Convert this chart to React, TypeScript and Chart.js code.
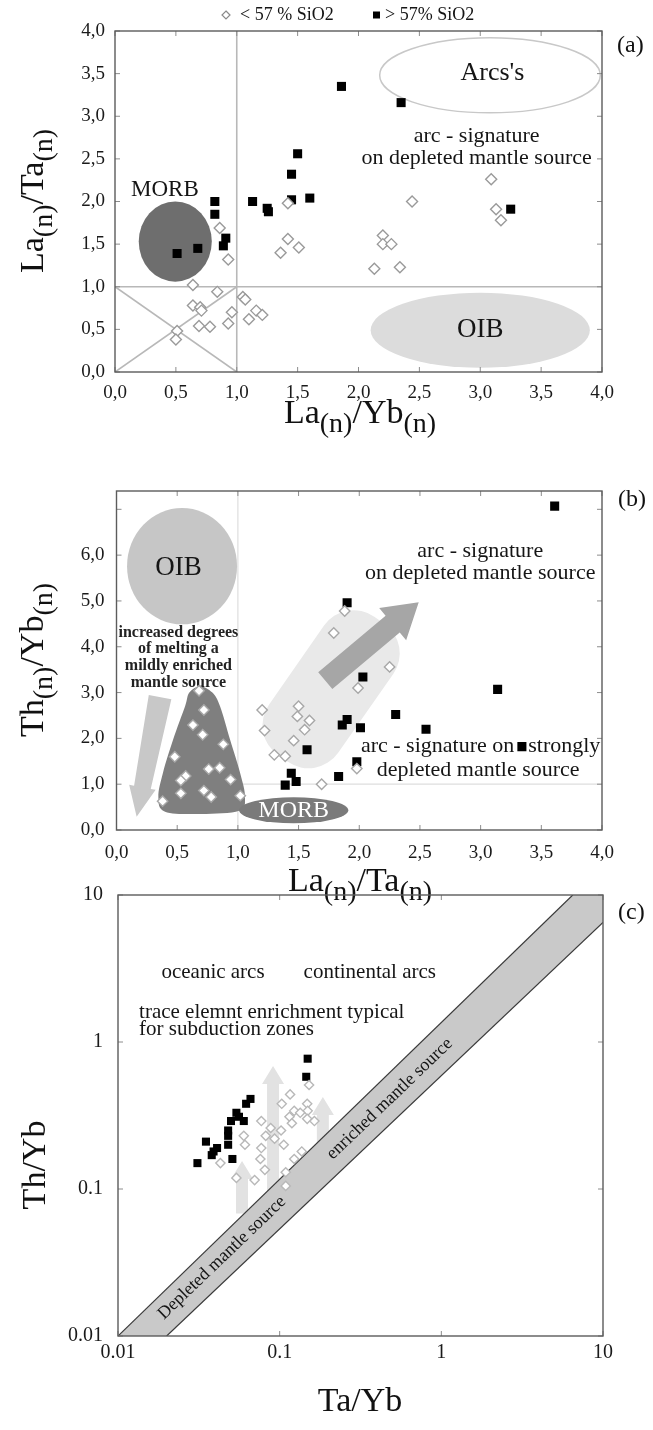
import React, { useEffect, useRef } from 'react';
import { Chart, registerables } from 'chart.js';

Chart.register(...registerables);

type Pt = [number, number];
const SERIF = '"Liberation Serif", "Times New Roman", serif';
const PAGE_W = 653;
const PAGE_H = 1430;

const LEGEND_LOW = '< 57 % SiO2';
const LEGEND_HIGH = '> 57% SiO2';

// ---------- Panel (a): La(n)/Yb(n) vs La(n)/Ta(n) ----------
const A_LOW: Pt[] = [
  [0.86, 1.69], [0.93, 1.32], [1.42, 1.98], [1.42, 1.56], [1.36, 1.40], [1.51, 1.46],
  [0.64, 1.02], [0.84, 0.94], [0.64, 0.78], [0.70, 0.76], [0.71, 0.72], [1.05, 0.88],
  [1.07, 0.85], [0.96, 0.70], [1.16, 0.72], [1.21, 0.67], [1.10, 0.62], [0.93, 0.57],
  [0.69, 0.54], [0.78, 0.53], [0.51, 0.48], [0.50, 0.38], [3.09, 2.26], [2.44, 2.00],
  [3.13, 1.91], [3.17, 1.78], [2.20, 1.60], [2.20, 1.50], [2.27, 1.50], [2.13, 1.21],
  [2.34, 1.23],
];
const A_HIGH: Pt[] = [
  [1.86, 3.35], [2.35, 3.16], [1.50, 2.56], [1.45, 2.32], [1.60, 2.04], [1.45, 2.02],
  [1.13, 2.00], [1.25, 1.92], [1.26, 1.88], [0.82, 2.00], [0.82, 1.85], [0.91, 1.57],
  [0.89, 1.48], [0.68, 1.45], [0.51, 1.39], [3.25, 1.91],
];
const A_TICKS = [0, 0.5, 1, 1.5, 2, 2.5, 3, 3.5, 4];
const A_GUIDES: [number, number, number, number][] = [[1, 0, 1, 4], [0, 1, 4, 1], [0, 0, 1, 1], [0, 1, 1, 0]];
const A_MORB = [0.495, 1.53, 0.30, 0.47];
const A_ARCS = [3.08, 3.48, 0.906, 0.44];
const A_OIB = [3.0, 0.49, 0.90, 0.44];

// ---------- Panel (b): La(n)/Ta(n) vs Th(n)/Yb(n) ----------
const B_LOW: Pt[] = [
  [0.68, 3.04], [0.72, 2.62], [0.63, 2.29], [0.71, 2.08], [0.88, 1.87], [0.48, 1.60],
  [0.76, 1.33], [0.85, 1.36], [0.57, 1.18], [0.53, 1.08], [0.94, 1.10], [0.72, 0.86],
  [0.53, 0.80], [0.78, 0.72], [1.02, 0.75], [0.38, 0.63], [1.20, 2.62], [1.50, 2.70],
  [1.49, 2.48], [1.59, 2.39], [1.22, 2.17], [1.55, 2.19], [1.46, 1.95], [1.30, 1.64],
  [1.39, 1.61], [1.69, 1.00], [1.99, 3.10], [1.98, 1.34], [1.88, 4.78], [1.79, 4.30],
  [2.25, 3.56],
];
const B_HIGH: Pt[] = [
  [3.61, 7.07], [1.90, 4.96], [2.03, 3.34], [3.14, 3.07], [2.30, 2.52], [1.90, 2.41],
  [1.86, 2.29], [2.01, 2.23], [2.55, 2.20], [3.34, 1.82], [1.57, 1.75], [1.98, 1.49],
  [1.44, 1.24], [1.83, 1.17], [1.48, 1.06], [1.39, 0.98],
];
const B_TICKS_X = [0, 0.5, 1, 1.5, 2, 2.5, 3, 3.5, 4];
const B_TICKS_Y = [0, 1, 2, 3, 4, 5, 6, 7];
const B_LAST_LABEL = 6;
const B_GUIDES: [number, number, number, number][] = [[1, 0, 1, 7.4], [1, 1, 4, 1]];
const B_OIB = [0.54, 5.76, 0.453, 1.27];
const B_MORB = [1.46, 0.43, 0.45, 0.285];
const B_ARC_FIELD: Pt[] = [[2.45, 4.05], [1.88, 5.11], [1.087, 2.09], [1.655, 1.04]];
const B_MELT_FIELD: Pt[] = [
  [0.689, 3.14], [0.79, 3.00], [0.853, 2.70], [0.936, 1.97], [1.018, 1.25], [1.059, 0.72],
  [1.01, 0.42], [0.70, 0.35], [0.40, 0.40], [0.345, 0.72], [0.383, 1.25], [0.466, 1.97],
  [0.565, 2.70], [0.60, 3.00],
];
const B_ARROW_DOWN: Pt[] = [[0.359, 2.90], [0.166, 0.29]];
const B_ARROW_UP: Pt[] = [[1.72, 3.26], [2.49, 4.97]];
const B_MELT_TEXT = ['increased degrees', 'of melting a', 'mildly enriched', 'mantle source'];

// ---------- Panel (c): Ta/Yb vs Th/Yb (log-log) ----------
const C_LOW: Pt[] = [
  [0.152, 0.51], [0.116, 0.44], [0.103, 0.38], [0.123, 0.34], [0.148, 0.38], [0.149, 0.34],
  [0.134, 0.33], [0.115, 0.31], [0.164, 0.29], [0.148, 0.30], [0.077, 0.29], [0.088, 0.26],
  [0.102, 0.25], [0.119, 0.28], [0.082, 0.23], [0.093, 0.22], [0.060, 0.23], [0.061, 0.20],
  [0.106, 0.20], [0.077, 0.19], [0.137, 0.18], [0.123, 0.16], [0.076, 0.16], [0.043, 0.15],
  [0.081, 0.135], [0.109, 0.13], [0.054, 0.119], [0.070, 0.115], [0.109, 0.105],
];
const C_HIGH: Pt[] = [
  [0.149, 0.77], [0.146, 0.58], [0.066, 0.41], [0.062, 0.38], [0.054, 0.33], [0.056, 0.31],
  [0.050, 0.29], [0.060, 0.29], [0.048, 0.25], [0.048, 0.23], [0.035, 0.21], [0.048, 0.20],
  [0.041, 0.19], [0.039, 0.18], [0.038, 0.17], [0.051, 0.16], [0.031, 0.15],
];
const LOG_TICKS = [0.01, 0.1, 1, 10];
const LOG_LABELS = ['0.01', '0.1', '1', '10'];
const C_BAND: Pt[] = [[0.01, 0.01], [6.5, 10], [10, 10], [10, 6.5], [0.02, 0.01]];
const C_EDGES: [Pt, Pt][] = [[[0.01, 0.01], [6.5, 10]], [[0.02, 0.01], [10, 6.5]]];
const C_ARROWS: [number, number, number][] = [[0.0585, 0.068, 0.155], [0.091, 0.0855, 0.687], [0.185, 0.148, 0.423]];

// ---------- drawing helpers ----------
type Ctx = CanvasRenderingContext2D;
type Conv = (v: number) => number;

function setFont(ctx: Ctx, size: number, weight = 'normal') {
  ctx.font = `${weight} ${size}px ${SERIF}`;
}
function label(ctx: Ctx, s: string, x: number, y: number, size: number, color = '#151515', align: CanvasTextAlign = 'center', weight = 'normal') {
  setFont(ctx, size, weight);
  ctx.fillStyle = color;
  ctx.textAlign = align;
  ctx.textBaseline = 'middle';
  ctx.fillText(s, x, y);
}
function rotLabel(ctx: Ctx, s: string, x: number, y: number, ang: number, size: number) {
  ctx.save();
  ctx.translate(x, y);
  ctx.rotate(ang);
  label(ctx, s, 0, 0, size);
  ctx.restore();
}
function ellipse(ctx: Ctx, X: Conv, Y: Conv, e: number[], fill: string | null, stroke: string | null) {
  const [cx, cy, rx, ry] = e;
  const px = X(cx), py = Y(cy);
  const prx = Math.abs(X(cx + rx) - px), pry = Math.abs(Y(cy + ry) - py);
  ctx.beginPath();
  ctx.ellipse(px, py, prx, pry, 0, 0, Math.PI * 2);
  if (fill) { ctx.fillStyle = fill; ctx.fill(); }
  if (stroke) { ctx.strokeStyle = stroke; ctx.lineWidth = 1.5; ctx.stroke(); }
}
function arrow(ctx: Ctx, x0: number, y0: number, x1: number, y1: number, sw0: number, sw1: number, hw: number, hl: number, color: string) {
  const len = Math.hypot(x1 - x0, y1 - y0);
  const dx = (x1 - x0) / len, dy = (y1 - y0) / len;
  const nx = -dy, ny = dx;
  const bx = x1 - dx * hl, by = y1 - dy * hl;
  ctx.beginPath();
  ctx.moveTo(x0 + nx * sw0 / 2, y0 + ny * sw0 / 2);
  ctx.lineTo(bx + nx * sw1 / 2, by + ny * sw1 / 2);
  ctx.lineTo(bx + nx * hw / 2, by + ny * hw / 2);
  ctx.lineTo(x1, y1);
  ctx.lineTo(bx - nx * hw / 2, by - ny * hw / 2);
  ctx.lineTo(bx - nx * sw1 / 2, by - ny * sw1 / 2);
  ctx.lineTo(x0 - nx * sw0 / 2, y0 - ny * sw0 / 2);
  ctx.closePath();
  ctx.fillStyle = color;
  ctx.fill();
}
function roundedPoly(ctx: Ctx, pts: number[][], r: number) {
  const n = pts.length;
  ctx.beginPath();
  ctx.moveTo((pts[n - 1][0] + pts[0][0]) / 2, (pts[n - 1][1] + pts[0][1]) / 2);
  for (let i = 0; i < n; i++) {
    const p = pts[i], q = pts[(i + 1) % n];
    ctx.arcTo(p[0], p[1], q[0], q[1], r);
  }
  ctx.closePath();
}
function smoothClosed(ctx: Ctx, pts: number[][]) {
  const n = pts.length;
  ctx.beginPath();
  ctx.moveTo(pts[0][0], pts[0][1]);
  for (let i = 0; i < n; i++) {
    const p0 = pts[(i - 1 + n) % n], p1 = pts[i], p2 = pts[(i + 1) % n], p3 = pts[(i + 2) % n];
    ctx.bezierCurveTo(
      p1[0] + (p2[0] - p0[0]) / 6, p1[1] + (p2[1] - p0[1]) / 6,
      p2[0] - (p3[0] - p1[0]) / 6, p2[1] - (p3[1] - p1[1]) / 6,
      p2[0], p2[1]);
  }
  ctx.closePath();
}
function line(ctx: Ctx, x0: number, y0: number, x1: number, y1: number) {
  ctx.beginPath();
  ctx.moveTo(x0, y0);
  ctx.lineTo(x1, y1);
  ctx.stroke();
}

// ---------- panel-specific underlays ----------
function drawA(ctx: Ctx, X: Conv, Y: Conv) {
  ctx.strokeStyle = '#b8b8b8';
  ctx.lineWidth = 1.6;
  for (const [x0, y0, x1, y1] of A_GUIDES) line(ctx, X(x0), Y(y0), X(x1), Y(y1));
  ellipse(ctx, X, Y, A_OIB, '#dcdcdc', null);
  ellipse(ctx, X, Y, A_ARCS, null, '#c8c8c8');
  ellipse(ctx, X, Y, A_MORB, '#6e6e6e', null);
  label(ctx, 'MORB', X(0.41), Y(2.13), 23);
  label(ctx, "Arcs's", X(3.10), Y(3.51), 26);
  label(ctx, 'arc - signature', X(2.97), Y(2.77), 22);
  label(ctx, 'on depleted mantle source', X(2.97), Y(2.51), 22);
  label(ctx, 'OIB', X(3.0), Y(0.49), 27);
}

function drawB(ctx: Ctx, X: Conv, Y: Conv) {
  ctx.strokeStyle = '#dedede';
  ctx.lineWidth = 1.2;
  for (const [x0, y0, x1, y1] of B_GUIDES) line(ctx, X(x0), Y(y0), X(x1), Y(y1));
  roundedPoly(ctx, B_ARC_FIELD.map(([x, y]) => [X(x), Y(y)]), 36);
  ctx.fillStyle = '#e9e9e9';
  ctx.fill();
  ellipse(ctx, X, Y, B_OIB, '#c6c6c6', null);
  smoothClosed(ctx, B_MELT_FIELD.map(([x, y]) => [X(x), Y(y)]));
  ctx.fillStyle = '#7f7f7f';
  ctx.fill();
  const [d0, d1] = B_ARROW_DOWN;
  arrow(ctx, X(d0[0]), Y(d0[1]), X(d1[0]), Y(d1[1]), 23, 17, 27, 30, '#c8c8c8');
  const [u0, u1] = B_ARROW_UP;
  arrow(ctx, X(u0[0]), Y(u0[1]), X(u1[0]), Y(u1[1]), 22, 22, 42, 34, '#a6a6a6');
  ellipse(ctx, X, Y, B_MORB, '#7a7a7a', null);
  label(ctx, 'MORB', X(1.46), Y(0.43), 24, '#ffffff');
  label(ctx, 'OIB', X(0.51), Y(5.73), 27);
  B_MELT_TEXT.forEach((s, i) => label(ctx, s, X(0.51), Y(4.31) + i * 16.8, 16, '#222', 'center', 'bold'));
  label(ctx, 'arc - signature', X(2.997), Y(6.09), 22);
  label(ctx, 'on depleted mantle source', X(2.997), Y(5.61), 22);
  label(ctx, 'arc - signature on', X(3.277), Y(1.82), 22, '#151515', 'right');
  label(ctx, 'strongly', X(3.392), Y(1.82), 22, '#151515', 'left');
  label(ctx, 'depleted mantle source', X(2.98), Y(1.31), 22);
}

function drawC(ctx: Ctx, X: Conv, Y: Conv) {
  for (const [x, y0, y1] of C_ARROWS) arrow(ctx, X(x), Y(y0), X(x), Y(y1), 12, 12, 22, 18, '#e2e2e2');
  ctx.beginPath();
  C_BAND.forEach(([x, y], i) => (i ? ctx.lineTo(X(x), Y(y)) : ctx.moveTo(X(x), Y(y))));
  ctx.closePath();
  ctx.fillStyle = '#c9c9c9';
  ctx.fill();
  ctx.strokeStyle = '#3a3a3a';
  ctx.lineWidth = 1.2;
  for (const [p, q] of C_EDGES) line(ctx, X(p[0]), Y(p[1]), X(q[0]), Y(q[1]));
  const angs = C_EDGES.map(([p, q]) => Math.atan2(Y(q[1]) - Y(p[1]), X(q[0]) - X(p[0])));
  const ang = (angs[0] + angs[1]) / 2;
  rotLabel(ctx, 'Depleted mantle source', X(0.044), Y(0.034), ang, 18);
  rotLabel(ctx, 'enriched mantle source', X(0.48), Y(0.41), ang, 18);
  label(ctx, 'oceanic arcs', X(0.0387), Y(2.99), 21);
  label(ctx, 'continental arcs', X(0.361), Y(2.99), 21);
  label(ctx, 'trace elemnt enrichment typical', X(0.0135), Y(1.6), 21, '#151515', 'left');
  label(ctx, 'for subduction zones', X(0.0135), Y(1.21), 21, '#151515', 'left');
}

// ---------- titles ----------
type Part = [string, boolean];
interface Title { parts: Part[]; x: number; y: number; rot: boolean }

function drawTitle(ctx: Ctx, t: Title) {
  const big = 34, small = 28, drop = 9;
  ctx.save();
  ctx.translate(t.x, t.y);
  if (t.rot) ctx.rotate(-Math.PI / 2);
  let w = 0;
  for (const [s, sub] of t.parts) { setFont(ctx, sub ? small : big); w += ctx.measureText(s).width; }
  let x = -w / 2;
  ctx.fillStyle = '#111';
  ctx.textAlign = 'left';
  ctx.textBaseline = 'alphabetic';
  for (const [s, sub] of t.parts) {
    setFont(ctx, sub ? small : big);
    ctx.fillText(s, x, sub ? 11 + drop : 11);
    x += ctx.measureText(s).width;
  }
  ctx.restore();
}

interface Spec {
  key: string;
  L: number; R: number; T: number; B: number;
  log: boolean;
  xMin: number; xMax: number; yMin: number; yMax: number;
  xTicks: number[]; yTicks: number[];
  xFmt: (v: number, i: number) => string; yFmt: (v: number, i: number) => string;
  xPad: number; yPad: number; tickSize: number;
  low: Pt[]; high: Pt[]; lowR: number; highR: number; lowColor: string;
  under: (ctx: Ctx, X: Conv, Y: Conv) => void;
  titles: Title[]; letter: string; letterX: number; letterY: number;
  legend?: boolean;
}

const comma = (v: number) => v.toFixed(1).replace('.', ',');

const SPECS: Spec[] = [
  {
    key: 'a', L: 115, R: 602, T: 31, B: 372, log: false,
    xMin: 0, xMax: 4, yMin: 0, yMax: 4, xTicks: A_TICKS, yTicks: A_TICKS,
    xFmt: comma, yFmt: comma, xPad: 10, yPad: 10, tickSize: 19,
    low: A_LOW, high: A_HIGH, lowR: 5.5, highR: 6.4, lowColor: '#9a9a9a',
    under: drawA,
    titles: [
      { parts: [['La', false], ['(n)', true], ['/Ta', false], ['(n)', true]], x: 32, y: 201, rot: true },
      { parts: [['La', false], ['(n)', true], ['/Yb', false], ['(n)', true]], x: 360, y: 412, rot: false },
    ],
    letter: '(a)', letterX: 617, letterY: 46, legend: true,
  },
  {
    key: 'b', L: 116.5, R: 602, T: 491, B: 830, log: false,
    xMin: 0, xMax: 4, yMin: 0, yMax: 7.4, xTicks: B_TICKS_X, yTicks: B_TICKS_Y,
    xFmt: comma, yFmt: (v: number) => (v <= B_LAST_LABEL ? comma(v) : ''), xPad: 12, yPad: 12, tickSize: 19,
    low: B_LOW, high: B_HIGH, lowR: 5.2, highR: 6.4, lowColor: '#a8a8a8',
    under: drawB,
    titles: [
      { parts: [['Th', false], ['(n)', true], ['/Yb', false], ['(n)', true]], x: 32, y: 660, rot: true },
      { parts: [['La', false], ['(n)', true], ['/Ta', false], ['(n)', true]], x: 360, y: 880, rot: false },
    ],
    letter: '(b)', letterX: 618, letterY: 500,
  },
  {
    key: 'c', L: 118, R: 603, T: 895, B: 1336, log: true,
    xMin: 0.01, xMax: 10, yMin: 0.01, yMax: 10, xTicks: LOG_TICKS, yTicks: LOG_TICKS,
    xFmt: (_v: number, i: number) => LOG_LABELS[i], yFmt: (_v: number, i: number) => LOG_LABELS[i],
    xPad: 5, yPad: 15, tickSize: 20,
    low: C_LOW, high: C_HIGH, lowR: 4.6, highR: 5.7, lowColor: '#b8b8b8',
    under: drawC,
    titles: [
      { parts: [['Th/Yb', false]], x: 34, y: 1165, rot: true },
      { parts: [['Ta/Yb', false]], x: 360, y: 1400, rot: false },
    ],
    letter: '(c)', letterX: 618, letterY: 913,
  },
];

function buildConfig(s: Spec): any {
  const deco = {
    id: 'deco-' + s.key,
    beforeDatasetsDraw(chart: any) {
      const ctx: Ctx = chart.ctx;
      const a = chart.chartArea;
      const X = (v: number) => chart.scales.x.getPixelForValue(v);
      const Y = (v: number) => chart.scales.y.getPixelForValue(v);
      ctx.save();
      ctx.beginPath();
      ctx.rect(a.left, a.top, a.right - a.left, a.bottom - a.top);
      ctx.clip();
      s.under(ctx, X, Y);
      ctx.restore();
    },
    afterDraw(chart: any) {
      const ctx: Ctx = chart.ctx;
      const a = chart.chartArea;
      const X = (v: number) => chart.scales.x.getPixelForValue(v);
      const Y = (v: number) => chart.scales.y.getPixelForValue(v);
      ctx.save();
      ctx.strokeStyle = '#8c8c8c';
      ctx.lineWidth = 1;
      for (const v of s.xTicks) {
        const px = X(v);
        line(ctx, px, a.top, px, a.top + 5);
        line(ctx, px, a.bottom, px, a.bottom - 5);
      }
      for (const v of s.yTicks) {
        const py = Y(v);
        line(ctx, a.left, py, a.left + 5, py);
        line(ctx, a.right, py, a.right - 5, py);
      }
      ctx.strokeStyle = '#5c5c5c';
      ctx.lineWidth = 1.4;
      ctx.strokeRect(a.left, a.top, a.right - a.left, a.bottom - a.top);
      for (const t of s.titles) drawTitle(ctx, t);
      label(ctx, s.letter, s.letterX, s.letterY, 24, '#111', 'left');
      if (s.legend) {
        const y = 15;
        ctx.strokeStyle = '#8a8a8a';
        ctx.lineWidth = 1.2;
        ctx.beginPath();
        ctx.moveTo(226, y - 4); ctx.lineTo(230, y); ctx.lineTo(226, y + 4); ctx.lineTo(222, y);
        ctx.closePath();
        ctx.stroke();
        label(ctx, LEGEND_LOW, 240, y, 18, '#151515', 'left');
        ctx.fillStyle = '#000';
        ctx.fillRect(373, y - 3.5, 7, 7);
        label(ctx, LEGEND_HIGH, 385, y, 18, '#151515', 'left');
      }
      ctx.restore();
    },
  };

  const axisFont = { family: SERIF, size: s.tickSize };
  const scaleType = s.log ? 'logarithmic' : 'linear';
  return {
    type: 'scatter',
    data: {
      datasets: [
        {
          label: LEGEND_LOW,
          data: s.low.map(([x, y]) => ({ x, y })),
          pointStyle: 'rectRot',
          pointRadius: s.lowR,
          backgroundColor: '#ffffff',
          borderColor: s.lowColor,
          borderWidth: 1.4,
        },
        {
          label: LEGEND_HIGH,
          data: s.high.map(([x, y]) => ({ x, y })),
          pointStyle: 'rect',
          pointRadius: s.highR,
          backgroundColor: '#000000',
          borderColor: '#000000',
          borderWidth: 0,
        },
      ],
    },
    options: {
      animation: false,
      responsive: false,
      events: [],
      layout: { padding: { top: s.T, right: PAGE_W - s.R, left: 0, bottom: 0 } },
      plugins: { legend: { display: false }, tooltip: { enabled: false } },
      scales: {
        x: {
          type: scaleType,
          min: s.xMin,
          max: s.xMax,
          afterBuildTicks: (sc: any) => { sc.ticks = s.xTicks.map((v) => ({ value: v })); },
          afterFit: (sc: any) => { sc.height = PAGE_H - s.B; },
          ticks: {
            callback: (v: number, i: number) => s.xFmt(v, i),
            font: axisFont, color: '#1a1a1a', padding: s.xPad, maxRotation: 0, autoSkip: false,
          },
          grid: { display: false, drawTicks: false },
          border: { display: false },
        },
        y: {
          type: scaleType,
          min: s.yMin,
          max: s.yMax,
          afterBuildTicks: (sc: any) => { sc.ticks = s.yTicks.map((v) => ({ value: v })); },
          afterFit: (sc: any) => { sc.width = s.L; },
          ticks: {
            callback: (v: number, i: number) => s.yFmt(v, i),
            font: axisFont, color: '#1a1a1a', padding: s.yPad, autoSkip: false,
          },
          grid: { display: false, drawTicks: false },
          border: { display: false },
        },
      },
    },
    plugins: [deco],
  };
}

function Panel({ spec }: { spec: Spec }) {
  const ref = useRef<HTMLCanvasElement>(null);
  useEffect(() => {
    const chart = new Chart(ref.current as HTMLCanvasElement, buildConfig(spec));
    return () => chart.destroy();
  }, [spec]);
  return (
    <canvas
      ref={ref}
      width={PAGE_W}
      height={PAGE_H}
      style={{ position: 'absolute', left: 0, top: 0, width: PAGE_W, height: PAGE_H }}
    />
  );
}

export default function App() {
  return (
    <div style={{ position: 'absolute', left: 0, top: 0, width: PAGE_W, height: PAGE_H, background: '#ffffff', overflow: 'hidden' }}>
      {SPECS.map((s) => <Panel key={s.key} spec={s} />)}
    </div>
  );
}
